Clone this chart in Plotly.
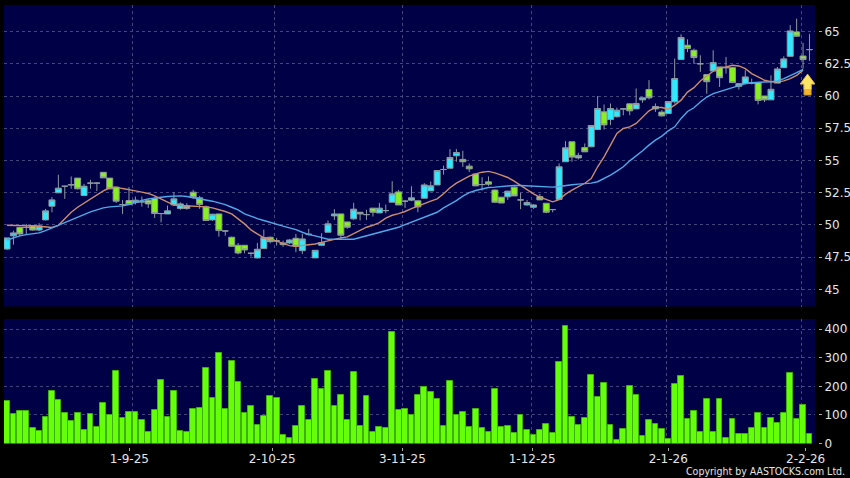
import plotly.graph_objects as go

opens = [48.13,49.15,49.8,49.8,49.95,49.6,50.39,51.45,52.49,53.0,53.1,53.63,52.28,53.24,53.24,54.08,53.63,52.93,51.58,51.89,
51.74,51.79,51.92,52.05,50.88,50.85,51.55,51.27,51.27,52.54,52.1,51.4,50.39,50.85,49.53,49.04,48.42,48.42,47.8,47.44,
48.16,49.04,48.76,48.6,48.6,48.96,48.0,49.27,47.44,48.42,49.43,50.7,50.85,50.23,50.47,50.98,50.8,51.3,50.93,51.11,
51.76,52.56,51.84,51.92,51.87,52.07,52.64,53.1,54.3,54.4,55.36,55.08,54.56,53.95,53.13,53.34,52.7,52.15,52.18,52.93,
51.94,51.55,51.37,52.2,51.68,51.19,51.98,54.9,56.45,55.2,56.0,56.06,57.4,58.77,58.18,58.39,59.0,59.39,59.0,59.7,
60.5,59.0,58.75,58.64,59.55,62.83,63.94,63.55,62.5,61.66,61.94,62.25,62.2,62.2,60.75,60.96,61.0,61.04,60.0,59.7,
61.0,62.2,63.08,64.97,63.1,63.6]
highs = [48.99,49.55,49.85,50.08,50.0,50.13,51.24,52.15,53.89,53.05,53.76,53.63,53.19,53.5,53.32,54.08,53.63,52.93,51.94,52.93,
52.2,52.2,52.02,52.15,50.88,51.5,52.54,51.76,51.68,52.72,52.25,51.5,50.85,50.85,49.56,49.1,48.6,48.42,47.85,48.6,
49.64,49.1,48.99,48.78,48.9,49.3,49.3,49.7,48.03,49.35,50.34,51.22,50.85,50.23,51.71,51.0,51.17,51.3,51.71,51.58,
53.39,52.72,51.94,53.0,51.87,53.24,53.37,54.22,54.6,55.88,55.88,55.75,54.77,53.95,53.7,53.76,52.75,52.15,52.65,53.0,
52.49,51.94,51.6,52.4,51.7,51.19,54.77,56.5,56.45,55.6,56.32,57.75,59.99,59.34,59.42,59.1,59.03,59.44,60.58,59.86,
61.23,59.42,58.9,59.57,62.9,64.79,64.4,63.68,63.16,61.66,63.55,62.25,63.03,62.25,61.0,62.0,61.35,61.04,60.0,61.6,
62.25,63.08,65.5,66.0,64.12,64.8]
lows = [48.05,48.47,49.12,49.25,49.55,49.5,50.34,50.98,52.49,52.02,52.8,52.75,52.28,52.8,52.62,53.65,52.8,51.7,50.85,51.58,
51.58,51.42,51.32,50.54,50.2,50.85,51.5,51.17,51.17,52.02,51.24,50.3,50.3,49.09,49.17,48.3,47.72,47.8,47.54,47.38,
48.16,48.57,48.4,48.3,48.52,47.88,47.75,49.17,47.44,48.4,49.43,50.39,48.91,49.7,50.39,50.34,50.39,50.65,50.93,50.9,
51.76,51.55,51.32,51.84,50.98,52.07,52.64,53.1,53.9,54.4,54.9,54.5,54.1,53.0,52.66,53.03,51.7,51.7,51.94,52.25,
51.22,51.5,51.24,51.94,50.9,50.98,51.93,54.9,54.9,55.08,55.67,56.06,57.4,57.4,57.74,58.33,58.5,58.51,59.0,59.47,
59.73,58.77,58.4,58.64,59.42,62.83,63.4,62.5,61.87,60.18,61.94,60.7,61.74,61.0,60.5,60.9,60.9,59.35,59.53,59.7,
61.0,62.2,63.03,64.6,62.12,62.72]
closes = [48.99,49.38,49.3,49.8,49.6,49.92,51.09,51.94,52.85,53.0,53.12,52.8,53.0,53.24,53.24,53.65,52.8,51.84,51.58,51.58,
51.92,51.79,51.63,50.88,50.88,51.09,52.02,51.63,51.48,52.12,51.58,50.34,50.83,49.56,49.53,48.34,47.82,48.06,47.8,48.11,
49.02,48.7,48.76,48.47,48.83,48.34,48.91,49.27,48.03,48.63,50.08,50.85,49.2,49.82,51.22,50.85,50.8,50.98,51.3,51.11,
52.41,51.55,51.84,52.1,51.4,53.1,53.03,54.22,54.3,55.23,55.62,54.9,54.35,53.03,53.13,53.16,51.76,51.7,52.62,52.25,
51.94,51.74,51.55,51.94,50.98,51.19,54.51,55.98,55.26,55.39,55.67,57.71,59.03,57.76,59.03,58.9,59.0,58.85,59.42,59.86,
59.86,59.18,58.46,59.57,61.36,64.54,63.68,62.98,62.5,61.11,62.59,61.42,62.2,61.04,60.96,61.48,61.0,59.66,59.7,60.52,
62.1,62.88,65.05,64.64,62.82,63.6]
ma_short = [49.97,49.97,49.97,49.97,49.92,49.9,49.84,49.8,49.97,50.47,50.98,51.37,51.68,52.02,52.33,52.64,52.88,52.93,52.82,52.75,
52.64,52.54,52.44,52.25,52.02,51.76,51.53,51.5,51.48,51.48,51.45,51.4,51.32,51.19,51.04,50.85,50.47,50.08,49.61,49.3,
48.99,48.91,48.73,48.52,48.39,48.34,48.39,48.47,48.52,48.65,48.78,48.91,48.99,49.07,49.3,49.56,49.82,49.97,50.18,50.52,
50.75,50.88,51.04,51.27,51.48,51.63,51.84,52.02,52.41,52.88,53.24,53.52,53.78,53.96,54.09,54.15,54.04,53.86,53.68,53.39,
53.06,52.72,52.41,52.15,51.94,51.79,51.96,52.39,52.7,52.95,53.23,53.6,54.51,55.28,56.19,57.09,57.48,57.61,57.87,58.38,
58.85,59.11,59.11,58.98,59.29,59.68,60.3,60.65,61.17,61.55,61.92,62.2,62.25,62.38,62.33,62.12,61.74,61.48,61.22,61.11,
61.09,61.17,61.35,61.6,62.0,None]
ma_long = [48.83,48.99,49.15,49.25,49.33,49.38,49.56,49.77,50.0,50.21,50.44,50.65,50.85,51.01,51.17,51.32,51.4,51.42,51.48,51.58,
51.76,51.89,52.02,52.1,52.15,52.2,52.25,52.25,52.2,52.12,52.02,51.94,51.84,51.71,51.58,51.37,51.17,50.85,50.65,50.49,
50.34,50.18,50.05,49.9,49.77,49.64,49.43,49.25,49.15,48.99,48.89,48.89,48.89,48.89,48.89,49.02,49.15,49.27,49.4,49.51,
49.66,49.82,50.02,50.21,50.39,50.57,50.73,50.98,51.32,51.58,51.89,52.23,52.51,52.67,52.8,52.9,52.93,52.98,53.03,53.06,
53.06,53.03,53.01,52.98,52.95,52.93,52.98,53.06,53.11,53.16,53.21,53.24,53.35,53.6,53.86,54.17,54.51,54.97,55.34,55.75,
56.19,56.58,56.89,57.3,57.61,58.26,58.8,59.09,59.53,59.92,60.18,60.34,60.44,60.62,60.8,60.96,61.04,61.09,61.09,61.11,
61.17,61.35,61.55,61.81,62.07,None]
volume = [148,103,115,113,54,45,92,183,154,107,78,106,48,104,57,142,99,253,90,112,
112,84,42,118,223,92,183,43,41,120,126,264,160,317,120,288,216,106,132,65,
98,168,161,31,21,62,132,83,227,191,254,132,169,84,250,63,166,41,59,56,
391,119,122,99,169,198,180,157,61,219,101,110,57,121,54,42,192,59,61,37,
101,48,29,49,69,37,287,413,92,65,89,241,162,213,66,13,51,203,171,28,
84,68,52,15,209,237,86,114,42,157,41,157,20,85,34,33,56,108,55,91,
72,107,247,85,136,33]

sessions = list(range(len(volume)))
date_labels = ["1-9-25", "2-10-25", "3-11-25", "1-12-25", "2-1-26", "2-2-26"]
label_sessions = [19.05, 41.3, 61.6, 81.8, 103.0, 124.4]
grid_sessions = [19.5, 41.6, 61.6, 81.7, 102.8, 123.8]
price_ticks = [45, 47.5, 50, 52.5, 55, 57.5, 60, 62.5, 65]
price_labels = ["45", "47.5", "50", "52.5", "55", "57.5", "60", "62.5", "65"]
volume_ticks = [0, 100, 200, 300, 400]

W, H = 850, 478
L, R, T, B = 4, 32, 5, 31
PW, PH = W - L - R, H - T - B
X_RANGE = [-0.47, 125.86]
NAVY = "#000046"
GRID = "#45457e"
TXT = "#e4e4e4"
DASH = "3px,3px"
FONT = dict(family="DejaVu Sans", size=12, color=TXT)

xdom = [0, 811 / PW]

fig = go.Figure()
fig.add_trace(go.Candlestick(
    x=sessions, open=opens, high=highs, low=lows, close=closes,
    xaxis="x", yaxis="y", whiskerwidth=0,
    increasing=dict(fillcolor="#2ee9ff", line=dict(color="#8f9a9f", width=1)),
    decreasing=dict(fillcolor="#88f01c", line=dict(color="#8f9a9f", width=1)),
    showlegend=False,
))
fig.add_trace(go.Scatter(x=sessions, y=ma_short, mode="lines", xaxis="x", yaxis="y",
                         line=dict(color="#cc8c6e", width=1.4), showlegend=False))
fig.add_trace(go.Scatter(x=sessions, y=ma_long, mode="lines", xaxis="x", yaxis="y",
                         line=dict(color="#4fa9e8", width=1.4), showlegend=False))
fig.add_trace(go.Bar(x=sessions, y=volume, xaxis="x2", yaxis="y2", width=0.9,
                     marker=dict(color="#66ff0a", line=dict(color="#3fb010", width=1)),
                     showlegend=False))

common_x = dict(range=X_RANGE, domain=xdom, showgrid=False, zeroline=False, showline=False,
                rangeslider=dict(visible=False),
                minor=dict(tickmode="array", tickvals=grid_sessions, showgrid=True,
                           gridcolor=GRID, griddash=DASH, gridwidth=1, ticks=""))
fig.update_layout(
    width=W, height=H, margin=dict(l=L, r=R, t=T, b=B, autoexpand=False),
    paper_bgcolor="black", plot_bgcolor=NAVY, font=FONT, bargap=0, hovermode=False,
    boxgap=0.07, boxgroupgap=0,
    xaxis=dict(anchor="y", showticklabels=False, ticks="", **common_x),
    xaxis2=dict(anchor="free", position=0, tickmode="array", tickvals=label_sessions, ticktext=date_labels,
                ticks="outside", ticklen=3, tickcolor="#aaaaaa", tickfont=FONT, ticklabelstandoff=-2, **common_x),
    yaxis=dict(domain=[(H - B - 306.5) / PH, 1], range=[43.67, 67.06], anchor="free", position=1, side="right",
               tickmode="array", tickvals=price_ticks, ticktext=price_labels,
               ticks="outside", ticklen=3, tickcolor="#aaaaaa", tickfont=FONT,
               showgrid=True, gridcolor=GRID, griddash=DASH, zeroline=False, showline=False),
    yaxis2=dict(domain=[(H - B - 443.5) / PH, (H - B - 319) / PH], range=[0, 436], anchor="free", position=1, side="right",
                tickmode="array", tickvals=volume_ticks,
                ticks="outside", ticklen=3, tickcolor="#aaaaaa", tickfont=FONT,
                showgrid=True, gridcolor=GRID, griddash=DASH, zeroline=False, showline=False),
    annotations=[dict(text="Copyright by AASTOCKS.com Ltd.", xref="paper", yref="paper", x=(847 - L) / PW, y=-(471 - (H - B)) / PH,
                      xanchor="right", yanchor="middle", showarrow=False,
                      font=dict(family="DejaVu Sans Condensed, DejaVu Sans", size=10.5, color=TXT))],
    shapes=[
        dict(type="path", xref="x", yref="y", layer="above", line=dict(color="#c89a20", width=1), fillcolor="#f7b52a",
             path="M 124.15 60.95 L 124.15 60.08 L 125.25 60.08 L 125.25 60.95 Z"),
        dict(type="path", xref="x", yref="y", layer="above", line=dict(color="#e0b840", width=1), fillcolor="#ffe566",
             path="M 123.55 60.93 L 124.7 61.7 L 125.85 60.93 L 125.25 60.93 L 125.25 60.5 L 124.15 60.5 L 124.15 60.93 Z"),
    ],
)
fig.write_html("out.html", config=dict(displayModeBar=False),
               post_script="document.body.style.margin='0';document.documentElement.style.overflow='hidden';")
